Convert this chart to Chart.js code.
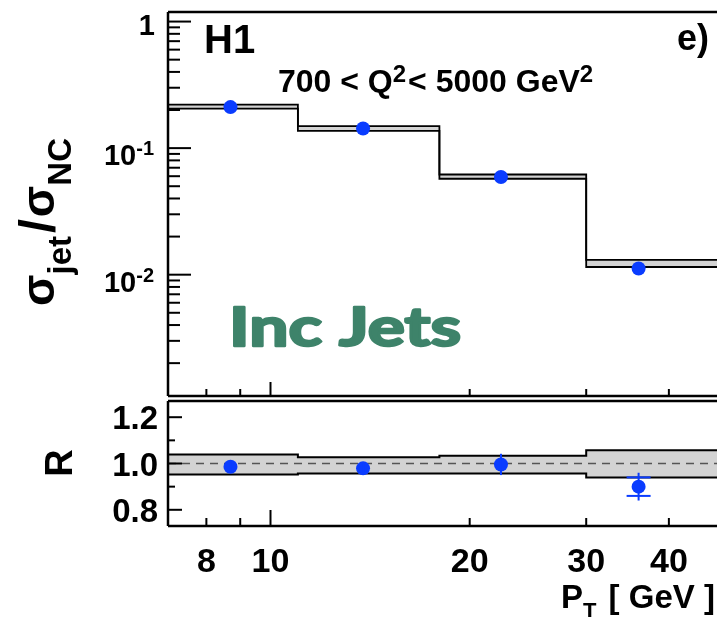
<!DOCTYPE html>
<html>
<head>
<meta charset="utf-8">
<script src="https://cdn.jsdelivr.net/npm/chart.js@4.4.0/dist/chart.umd.min.js"></script>
<style>
  html, body { margin: 0; padding: 0; background: #fff; overflow: hidden; }
  #wrap { position: relative; width: 717px; height: 617px; overflow: hidden; }
  #wrap canvas { position: absolute; left: 0; }
</style>
</head>
<body>
<div id="wrap">
  <canvas id="topPanel" width="740" height="403" style="top:0"></canvas>
  <canvas id="ratioPanel" width="740" height="227" style="top:390px"></canvas>
</div>
<script>
// --- data ---
const binEdges   = [7, 11, 18, 30, 50];
const ptCentres  = [8.7, 13.8, 22.3, 36.0];
const xsecRatio  = [0.211, 0.143, 0.0591, 0.0112];
const theoryHi   = [0.221, 0.149, 0.0619, 0.0131];
const theoryLo   = [0.205, 0.137, 0.0573, 0.0115];
const rValue     = [0.986, 0.979, 0.996, 0.900];
const rErrTot    = [0.02, 0.02, 0.046, 0.06];
const rErrStat   = [0, 0, 0, 0.04];
const rBandHi    = [1.039, 1.027, 1.034, 1.057];
const rBandLo    = [0.953, 0.957, 0.957, 0.940];

// --- axis ticks / labels ---
const xLabels     = [8, 10, 20, 30, 40];
const xMajor      = [10];
const xMinor      = [7, 8, 9, 20, 30, 40, 50];
const yTopMajor   = [1, 0.1, 0.01];
const yTopLabels  = [['1', ''], ['10', '-1'], ['10', '-2']];
const yBotMajor   = [0.8, 1.0, 1.2];
const yBotMinor   = [0.9, 1.1];
const yBotLabels  = ['0.8', '1.0', '1.2'];

const BLUE = '#0a3cff';
const BAND = '#d3d3d3';
const FONT = '"Liberation Sans", Arial, sans-serif';

const steps = vals => binEdges.map((e, i) => ({ x: e, y: vals[Math.min(i, vals.length - 1)] }));

function partsWidth(ctx, parts) {
  let w = 0;
  for (const p of parts) {
    ctx.font = `bold ${p.s}px ${FONT}`;
    w += ctx.measureText(p.t).width + (p.gap || 0);
  }
  return w;
}
function drawParts(ctx, x, y, parts, align) {
  const w = partsWidth(ctx, parts);
  let cx = align === 'right' ? x - w : align === 'center' ? x - w / 2 : x;
  for (const p of parts) {
    ctx.font = `bold ${p.s}px ${FONT}`;
    ctx.fillText(p.t, cx, y + (p.dy || 0));
    cx += ctx.measureText(p.t).width + (p.gap || 0);
  }
}
function line(ctx, x1, y1, x2, y2) {
  ctx.beginPath(); ctx.moveTo(x1, y1); ctx.lineTo(x2, y2); ctx.stroke();
}

const topDeco = {
  id: 'topDeco',
  afterDraw(chart) {
    const { ctx, chartArea: a, scales: { x, y } } = chart;
    ctx.save();
    ctx.strokeStyle = '#000';
    ctx.fillStyle = '#000';
    ctx.lineWidth = 2.5;
    line(ctx, a.left, a.top, a.right, a.top);
    line(ctx, a.left, a.top, a.left, a.bottom);
    line(ctx, a.left, a.bottom, a.right, a.bottom);
    line(ctx, a.right, a.top, a.right, a.bottom);

    ctx.lineWidth = 2;
    // y ticks, log decades
    for (const v of yTopMajor) {
      const py = y.getPixelForValue(v);
      line(ctx, a.left, py, a.left + 23, py);
    }
    for (const dec of [0.001, 0.01, 0.1]) {
      for (let k = 2; k <= 9; k++) {
        const v = k * dec;
        if (v < y.min || v > y.max) continue;
        const py = y.getPixelForValue(v);
        line(ctx, a.left, py, a.left + 12, py);
      }
    }
    for (const v of xMajor) {
      const px = x.getPixelForValue(v);
      line(ctx, px, a.bottom, px, a.bottom - 14);
    }
    for (const v of xMinor) {
      const px = x.getPixelForValue(v);
      line(ctx, px, a.bottom, px, a.bottom - 7);
    }

    // y tick labels
    ctx.textBaseline = 'alphabetic';
    yTopMajor.forEach((v, i) => {
      const py = y.getPixelForValue(v);
      const [base, sup] = yTopLabels[i];
      if (!sup) {
        drawParts(ctx, 155, py + 13, [{ t: base, s: 29 }], 'right');
      } else {
        drawParts(ctx, 154, py + 17, [{ t: base, s: 29 }, { t: sup, s: 20, dy: -10 }], 'right');
      }
    });

    // labels inside frame
    drawParts(ctx, 204, 53, [{ t: 'H1', s: 40 }], 'left');
    drawParts(ctx, 677, 50, [{ t: 'e)', s: 36 }], 'left');
    drawParts(ctx, 278, 92, [
      { t: '700 < Q', s: 32 }, { t: '2', s: 24, dy: -10, gap: 2 },
      { t: '< 5000 GeV', s: 32 }, { t: '2', s: 24, dy: -10 }
    ], 'left');

    // "Inc Jets" in a wide heavy face: stretch Lato to the reference width
    ctx.fillStyle = '#3e836a';
    ctx.strokeStyle = '#3e836a';
    ctx.font = `bold 53px Lato, "Open Sans", sans-serif`;
    const w = ctx.measureText('Inc Jets').width;
    ctx.save();
    ctx.translate(229, 346);
    ctx.scale(232 / w, 1);
    ctx.lineWidth = 2.4;
    ctx.lineJoin = 'round';
    ctx.fillText('Inc Jets', 0, 0);
    ctx.strokeText('Inc Jets', 0, 0);
    ctx.restore();

    // y-axis title (rotated)
    ctx.fillStyle = '#000';
    ctx.translate(54, 306);
    ctx.rotate(-Math.PI / 2);
    drawParts(ctx, 0, 0, [
      { t: 'σ', s: 46 }, { t: 'jet', s: 33, dy: 17, gap: 3 },
      { t: '/', s: 50, gap: 2 }, { t: 'σ', s: 46 }, { t: 'NC', s: 33, dy: 17 }
    ], 'left');
    ctx.restore();
  }
};

const ratioDeco = {
  id: 'ratioDeco',
  afterDraw(chart) {
    const { ctx, chartArea: a, scales: { x, y } } = chart;
    ctx.save();
    // error bars
    ctx.strokeStyle = BLUE;
    ctx.lineWidth = 2;
    rValue.forEach((v, i) => {
      const px = x.getPixelForValue(ptCentres[i]);
      line(ctx, px, y.getPixelForValue(v + rErrTot[i]), px, y.getPixelForValue(v - rErrTot[i]));
      if (rErrStat[i] > 0) {
        for (const s of [1, -1]) {
          const py = y.getPixelForValue(v + s * rErrStat[i]);
          line(ctx, px - 12, py, px + 12, py);
        }
      }
    });

    ctx.strokeStyle = '#000';
    ctx.fillStyle = '#000';
    ctx.lineWidth = 2.5;
    line(ctx, a.left, a.top, a.right, a.top);
    line(ctx, a.left, a.top, a.left, a.bottom);
    line(ctx, a.left, a.bottom, a.right, a.bottom);
    line(ctx, a.right, a.top, a.right, a.bottom);

    ctx.lineWidth = 2;
    for (const v of yBotMajor) {
      const py = y.getPixelForValue(v);
      line(ctx, a.left, py, a.left + 14, py);
    }
    for (const v of yBotMinor) {
      const py = y.getPixelForValue(v);
      line(ctx, a.left, py, a.left + 7, py);
    }
    for (const v of xMajor) {
      const px = x.getPixelForValue(v);
      line(ctx, px, a.bottom, px, a.bottom - 16);
    }
    for (const v of xMinor) {
      const px = x.getPixelForValue(v);
      line(ctx, px, a.bottom, px, a.bottom - 8);
    }

    ctx.textBaseline = 'alphabetic';
    yBotMajor.forEach((v, i) => {
      drawParts(ctx, 158, y.getPixelForValue(v) + 12, [{ t: yBotLabels[i], s: 33 }], 'right');
    });
    xLabels.forEach(v => {
      drawParts(ctx, x.getPixelForValue(v), a.bottom + 46, [{ t: String(v), s: 34 }], 'center');
    });

    drawParts(ctx, 561, 218, [
      { t: 'P', s: 33 }, { t: 'T', s: 22, dy: 10, gap: 3 }, { t: ' [ GeV ]', s: 33 }
    ], 'left');

    ctx.translate(72, 73);
    ctx.rotate(-Math.PI / 2);
    drawParts(ctx, 0, 0, [{ t: 'R', s: 38 }], 'center');
    ctx.restore();
  }
};

const common = {
  responsive: false,
  animation: false,
  events: [],
  plugins: { legend: { display: false }, tooltip: { enabled: false } }
};

new Chart(document.getElementById('topPanel'), {
  type: 'line',
  data: {
    datasets: [
      { data: ptCentres.map((x, i) => ({ x, y: xsecRatio[i] })), showLine: false,
        pointRadius: 7, pointBackgroundColor: BLUE, pointBorderWidth: 0 },
      { data: steps(theoryHi), stepped: true, borderColor: '#000', borderWidth: 1.8,
        pointRadius: 0, fill: false },
      { data: steps(theoryLo), stepped: true, borderColor: '#000', borderWidth: 1.8,
        pointRadius: 0, fill: '-1', backgroundColor: BAND }
    ]
  },
  options: {
    ...common,
    layout: { padding: { left: 168, top: 12, right: 7, bottom: 2 } },
    scales: {
      x: { type: 'logarithmic', min: 7, max: 50, display: false },
      y: { type: 'logarithmic', min: 0.0011, max: 1.19, display: false }
    }
  },
  plugins: [topDeco]
});

new Chart(document.getElementById('ratioPanel'), {
  type: 'line',
  data: {
    datasets: [
      { data: ptCentres.map((x, i) => ({ x, y: rValue[i] })), showLine: false,
        pointRadius: 7, pointBackgroundColor: BLUE, pointBorderWidth: 0 },
      { data: [{ x: binEdges[0], y: 1 }, { x: binEdges[binEdges.length - 1], y: 1 }],
        borderColor: '#555', borderWidth: 1.5, borderDash: [8, 6], pointRadius: 0, fill: false },
      { data: steps(rBandHi), stepped: true, borderColor: '#000', borderWidth: 2,
        pointRadius: 0, fill: false },
      { data: steps(rBandLo), stepped: true, borderColor: '#000', borderWidth: 2,
        pointRadius: 0, fill: '-1', backgroundColor: BAND }
    ]
  },
  options: {
    ...common,
    layout: { padding: { left: 168, top: 11, right: 7, bottom: 91 } },
    scales: {
      x: { type: 'logarithmic', min: 7, max: 50, display: false },
      y: { type: 'linear', min: 0.73, max: 1.27, display: false }
    }
  },
  plugins: [ratioDeco]
});
</script>
</body>
</html>
